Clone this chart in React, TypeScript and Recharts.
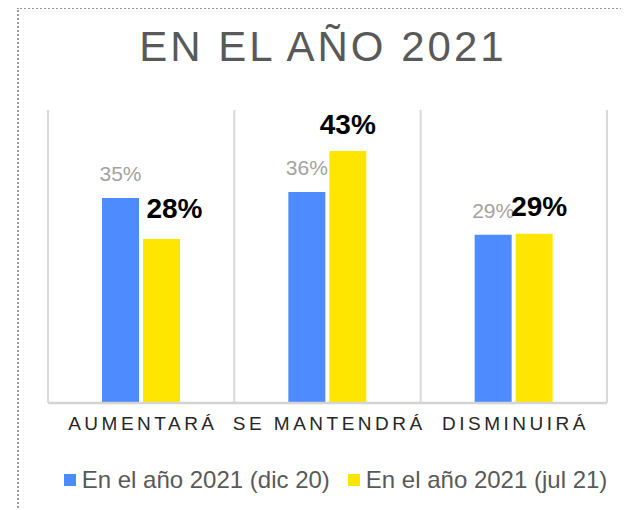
import React from 'react';
import { BarChart, Bar, XAxis, YAxis, CartesianGrid, Legend, LabelList } from 'recharts';

const title = 'EN EL AÑO 2021';
const categories = ['AUMENTARÁ', 'SE MANTENDRÁ', 'DISMINUIRÁ'];
const dic20 = [35, 36, 28.7];
const jul21 = [28, 43, 28.9];
const seriesNames = ['En el año 2021 (dic 20)', 'En el año 2021 (jul 21)'];
const seriesColors = ['#4d8bff', '#ffe600'];

const data = categories.map((c, i) => ({ category: c, dic20: dic20[i], jul21: jul21[i] }));

const FONT = "'Liberation Sans', Arial, sans-serif";

const fmt = (v: number) => `${Math.round(v)}%`;

const BlueLabel = (props: any) => {
  const { x, y, width, value } = props;
  return (
    <text x={x + width / 2} y={y - 17} textAnchor="middle" fontSize={21} fill="#a3a3a3" fontFamily={FONT}>
      {fmt(value)}
    </text>
  );
};

const yellowDx = [13, 0, 5];
const yellowDy = [21, 17, 18];
const YellowLabel = (props: any) => {
  const { x, y, width, value, index } = props;
  return (
    <text
      x={x + width / 2 + (yellowDx[index] || 0)}
      y={y - (yellowDy[index] || 17)}
      textAnchor="middle"
      fontSize={28}
      fontWeight="bold"
      fill="#000000"
      fontFamily={FONT}
    >
      {fmt(value)}
    </text>
  );
};

const Tick = (props: any) => {
  const { x, y, payload } = props;
  return (
    <text x={x} y={y} dy={27} dx={1.7} textAnchor="middle" fontSize={19} letterSpacing={3.5} fill="#262626" fontFamily={FONT}>
      {payload.value}
    </text>
  );
};

const LegendContent = () => (
  <div
    style={{
      height: 50,
      display: 'flex',
      alignItems: 'flex-end',
      justifyContent: 'center',
      paddingLeft: 16,
      paddingBottom: 18,
      boxSizing: 'border-box',
      fontFamily: FONT,
      fontSize: 24,
      color: '#595959',
      whiteSpace: 'nowrap',
    }}
  >
    {seriesNames.map((n, i) => (
      <div key={n} style={{ display: 'flex', alignItems: 'center', height: 24, marginRight: i === 0 ? 18 : 0 }}>
        <span style={{ display: 'inline-block', width: 12, height: 12, background: seriesColors[i], marginRight: 6 }} />
        <span style={{ lineHeight: '24px' }}>{n}</span>
      </div>
    ))}
  </div>
);

const gridGen = (args: any) => {
  const { offset } = args;
  const l = offset.left;
  const w = offset.width;
  return [l, l + w / 3, l + (2 * w) / 3, l + w];
};

export default function App() {
  return (
    <div style={{ position: 'relative', width: 621, height: 502 }}>
      <div
        style={{
          position: 'absolute',
          left: 9,
          top: -1,
          width: 640,
          height: 520,
          borderLeft: '2px dotted #9a9a9a',
          borderTop: '2px dotted #9a9a9a',
          boxSizing: 'border-box',
        }}
      />
      <div
        style={{
          position: 'absolute',
          left: 12,
          top: 18,
          width: 600,
          paddingLeft: 3,
          textAlign: 'center',
          fontFamily: FONT,
          fontSize: 42,
          lineHeight: 1,
          letterSpacing: 3,
          color: '#595959',
          whiteSpace: 'nowrap',
        }}
      >
        {title}
      </div>
      <BarChart
        width={621}
        height={502}
        data={data}
        margin={{ top: 102, right: 22, left: 40, bottom: 0 }}
        barSize={37}
        barGap={4}
        style={{ position: 'absolute', left: 0, top: 0 }}
      >
        <CartesianGrid horizontal={false} vertical stroke="#d9d9d9" strokeWidth={2} verticalCoordinatesGenerator={gridGen} />
        <XAxis
          dataKey="category"
          tickLine={false}
          tickSize={0}
          tickMargin={0}
          axisLine={{ stroke: '#d4d4d4', strokeWidth: 2.5 }}
          tick={<Tick />}
          interval={0}
          height={57}
        />
        <YAxis hide domain={[0, 50]} />
        <Legend verticalAlign="bottom" content={<LegendContent />} />
        <Bar dataKey="dic20" name={seriesNames[0]} fill={seriesColors[0]} isAnimationActive={false}>
          <LabelList dataKey="dic20" content={<BlueLabel />} />
        </Bar>
        <Bar dataKey="jul21" name={seriesNames[1]} fill={seriesColors[1]} isAnimationActive={false}>
          <LabelList dataKey="jul21" content={<YellowLabel />} />
        </Bar>
      </BarChart>
    </div>
  );
}
